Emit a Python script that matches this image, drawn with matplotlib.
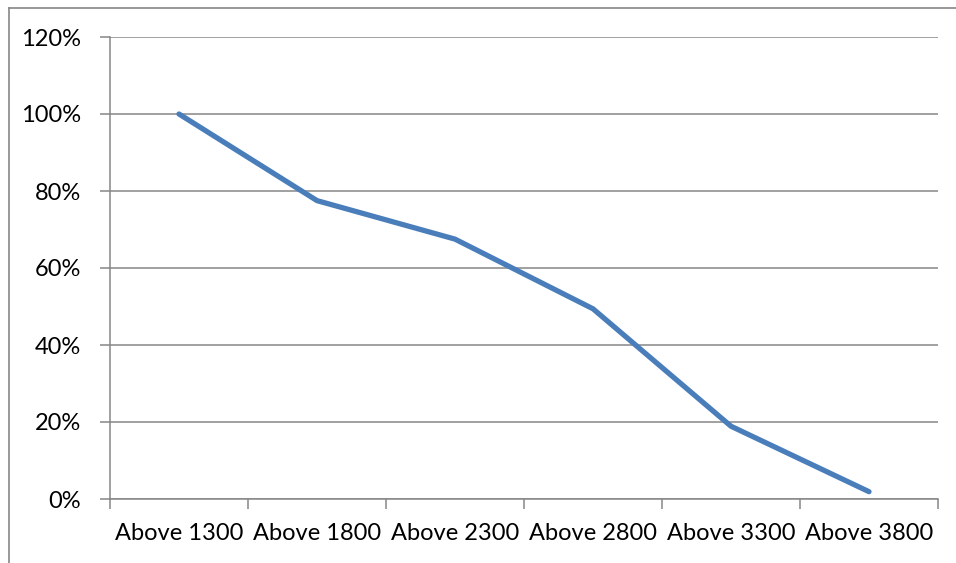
import matplotlib.pyplot as plt
from matplotlib.lines import Line2D
from matplotlib.ticker import FuncFormatter


# -----------------------------
# Data
# -----------------------------
CATEGORIES = ["Above 1300", "Above 1800", "Above 2300",
              "Above 2800", "Above 3300", "Above 3800"]
SHARE = [100.0, 77.5, 67.5, 49.4, 18.9, 1.9]
Y_TICKS = [0, 20, 40, 60, 80, 100, 120]


# -----------------------------
# Style
# -----------------------------
LINE_BLUE = "#4a7ebb"
GRID_GRAY = "#868686"
TEXT_COLOR = "#000000"
FONT = ["Lato", "DejaVu Sans"]
LABEL_SIZE = 17


def plot_chart():
    plt.rcParams["font.family"] = FONT

    fig = plt.figure(figsize=(9.56, 5.63), dpi=100)
    fig.patch.set_facecolor("white")

    ax = fig.add_axes([110 / 956, 64 / 563, 828 / 956, 462 / 563])

    x = range(len(CATEGORIES))
    ax.plot(x, SHARE, color=LINE_BLUE, linewidth=3.8,
            solid_capstyle="round", solid_joinstyle="miter", zorder=3)

    ax.set_xlim(-0.5, len(CATEGORIES) - 0.5)
    ax.set_ylim(0, 120)

    # category labels sit between the tick marks
    ax.set_xticks([i - 0.5 for i in range(len(CATEGORIES) + 1)])
    ax.set_xticklabels([])
    ax.set_xticks(list(x), minor=True)
    ax.set_xticklabels(CATEGORIES, minor=True)
    ax.tick_params(axis="x", which="minor", length=0, pad=17,
                   labelsize=LABEL_SIZE, labelcolor=TEXT_COLOR)
    ax.tick_params(axis="x", which="major", length=7, width=1.1,
                   color=GRID_GRAY, direction="out")

    ax.set_yticks(Y_TICKS)
    ax.yaxis.set_major_formatter(FuncFormatter(lambda v, _: f"{v:.0f}%"))
    ax.tick_params(axis="y", length=7, width=1.1, color=GRID_GRAY,
                   pad=14, labelsize=LABEL_SIZE, labelcolor=TEXT_COLOR)

    ax.grid(axis="y", color=GRID_GRAY, linewidth=1.1)
    ax.set_axisbelow(True)

    for side in ("top", "right"):
        ax.spines[side].set_visible(False)
    for side in ("left", "bottom"):
        ax.spines[side].set_color(GRID_GRAY)
        ax.spines[side].set_linewidth(1.1)
    ax.spines["bottom"].set_zorder(2)

    # outer chart frame, cut off at the right and bottom edges
    fig.add_artist(Line2D([8.5 / 956, 8.5 / 956], [0, 1 - 7.5 / 563],
                          transform=fig.transFigure, color=GRID_GRAY,
                          linewidth=1.2))
    fig.add_artist(Line2D([8.5 / 956, 1], [1 - 7.5 / 563, 1 - 7.5 / 563],
                          transform=fig.transFigure, color=GRID_GRAY,
                          linewidth=1.2))

    fig.savefig("out.png", dpi=100)


if __name__ == "__main__":
    plot_chart()
